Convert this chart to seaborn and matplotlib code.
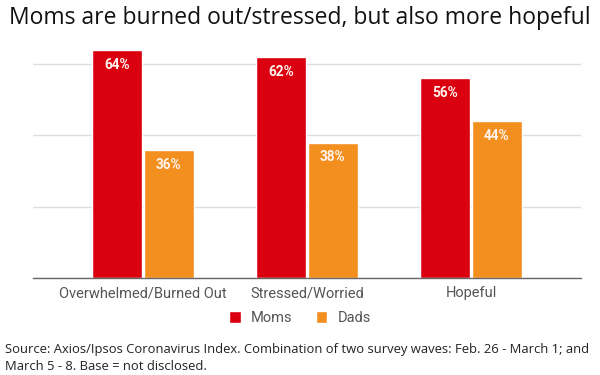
import pandas as pd
import seaborn as sns
import matplotlib.pyplot as plt

# Chart data
categories = ['Overwhelmed/Burned Out', 'Stressed/Worried', 'Hopeful']
moms = [64, 62, 56]
dads = [36, 38, 44]
groups = ['Moms', 'Dads']

df = pd.DataFrame({
    'category': categories * 2,
    'group': ['Moms'] * len(categories) + ['Dads'] * len(categories),
    'value': moms + dads,
})

sns.set_theme(style='white')
plt.rcParams['font.family'] = ['Roboto', 'DejaVu Sans']

fig = plt.figure(figsize=(6, 3.75), dpi=100)
ax = fig.add_axes([33 / 600, 1 - 278 / 375, 548 / 600, (278 - 28.5) / 375])

palette = {'Moms': '#db0010', 'Dads': '#f28f1f'}
sns.barplot(data=df, x='category', y='value', hue='group', hue_order=groups,
            palette=palette, width=0.63, gap=0.03, saturation=1,
            ax=ax, zorder=3)

ax.set_xlim(-0.67, 2.67)
ax.set_ylim(0, 70)
ax.set_yticks([0, 20, 40, 60])
ax.set_yticklabels([])
ax.tick_params(axis='y', length=0)
ax.yaxis.grid(True, color='#dddddd', linewidth=1, zorder=0)
ax.set_xlabel('')
ax.set_ylabel('')
ax.tick_params(axis='x', length=0, pad=6, labelsize=10.5, labelcolor='#555555')
for side in ['top', 'right', 'left']:
    ax.spines[side].set_visible(False)
ax.spines['bottom'].set_color('#666666')
ax.spines['bottom'].set_linewidth(1)
ax.spines['bottom'].set_zorder(4)

# value labels inside top of bars
for cont in ax.containers:
    for bar in cont:
        h = bar.get_height()
        ax.text(bar.get_x() + bar.get_width() / 2, h - 2.2, f'{h:.0f}%',
                ha='center', va='top', color='#fff4ee', fontsize=9.8,
                fontweight='bold', zorder=5)

ax.legend(loc='center', bbox_to_anchor=(0.5, 1 - 318 / 375),
          bbox_transform=fig.transFigure, ncol=2, frameon=False,
          handlelength=0.8, handleheight=0.8, handletextpad=0.7,
          columnspacing=1.6, fontsize=10.5, labelcolor='#555555')

fig.text(0.5, 1 - 18 / 375, 'Moms are burned out/stressed, but also more hopeful',
         ha='center', va='center', fontsize=16.5, family='Open Sans',
         color='#111111')
fig.text(5 / 600, 1 - 358 / 375,
         'Source: Axios/Ipsos Coronavirus Index. Combination of two survey waves: '
         'Feb. 26 - March 1; and\nMarch 5 - 8. Base = not disclosed.',
         ha='left', va='center', fontsize=9.4, family='Open Sans',
         color='#222222', linespacing=1.3)

fig.savefig('out.png', dpi=100)
